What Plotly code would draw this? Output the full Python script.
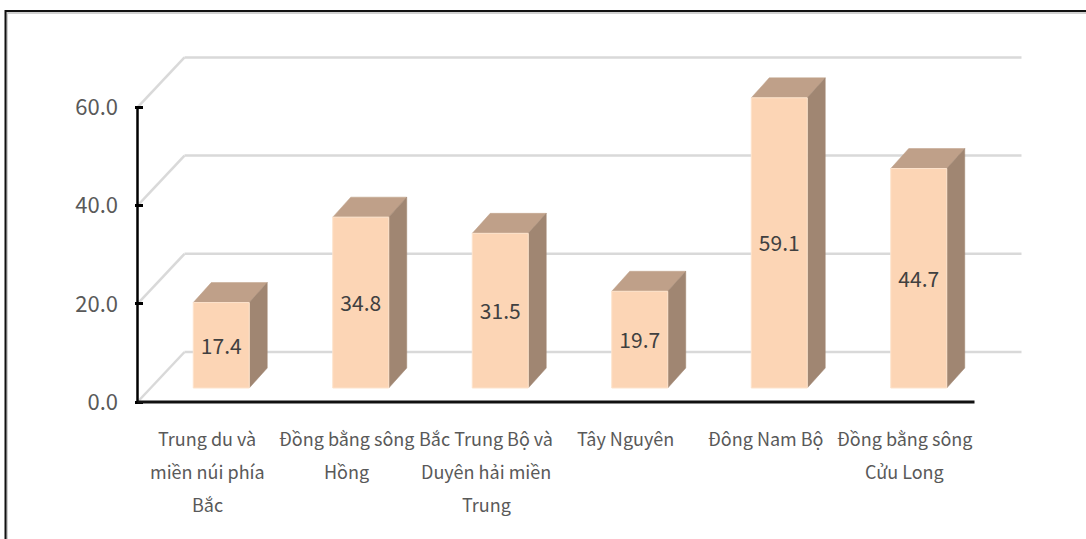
import plotly.graph_objects as go

# Regional values (%), one per region
regions = [
    ["Trung du và", "miền núi phía", "Bắc"],
    ["Đồng bằng sông", "Hồng"],
    ["Bắc Trung Bộ và", "Duyên hải miền", "Trung"],
    ["Tây Nguyên"],
    ["Đông Nam Bộ"],
    ["Đồng bằng sông", "Cửu Long"],
]
values = [17.4, 34.8, 31.5, 19.7, 59.1, 44.7]
y_ticks = [0, 20, 40, 60]
y_tick_text = ["0.0", "20.0", "40.0", "60.0"]

# Figure geometry
W, H = 1086, 539
M_L, M_R, M_T, M_B = 135, 51, 40, 134
PX_CAT = 139.5          # pixels per category
PX_VAL = 4.91           # pixels per value unit
AXIS_LEFT_PX = 137.5    # pixel x of the front value axis
AXIS_ZERO_PX = 402      # pixel y of the front category axis

x0 = -0.5 - (AXIS_LEFT_PX - M_L) / PX_CAT
x1 = x0 + (W - M_L - M_R) / PX_CAT
y0 = -(H - M_B - AXIS_ZERO_PX) / PX_VAL
y1 = y0 + (H - M_T - M_B) / PX_VAL

# Oblique depth offsets in data units
WALL_DX, WALL_DY = 47 / PX_CAT, 50 / PX_VAL
BAR_FRONT_DX, BAR_FRONT_DY = 14 / PX_CAT, 14 / PX_VAL
BAR_BACK_DX, BAR_BACK_DY = 32 / PX_CAT, 34 / PX_VAL
HALF_W = 28 / PX_CAT

FRONT = "#FCD5B5"
TOP = "#BFA089"
SIDE = "#A08672"
GRID = "#D9D9D9"
TEXT = "#595959"
FONT = "Noto Sans CJK SC, sans-serif"

fig = go.Figure()

n = len(values)
for i, v in enumerate(values):
    l = i - HALF_W
    r = i + HALF_W
    # top face
    fig.add_trace(go.Scatter(
        x=[l + BAR_FRONT_DX, r + BAR_FRONT_DX, r + BAR_BACK_DX, l + BAR_BACK_DX, l + BAR_FRONT_DX],
        y=[v + BAR_FRONT_DY, v + BAR_FRONT_DY, v + BAR_BACK_DY, v + BAR_BACK_DY, v + BAR_FRONT_DY],
        fill="toself", fillcolor=TOP, mode="lines", line=dict(color=TOP, width=0.5),
        hoverinfo="skip", showlegend=False))
    # side face
    fig.add_trace(go.Scatter(
        x=[r + BAR_FRONT_DX, r + BAR_BACK_DX, r + BAR_BACK_DX, r + BAR_FRONT_DX, r + BAR_FRONT_DX],
        y=[BAR_FRONT_DY, BAR_BACK_DY, v + BAR_BACK_DY, v + BAR_FRONT_DY, BAR_FRONT_DY],
        fill="toself", fillcolor=SIDE, mode="lines", line=dict(color=SIDE, width=0.5),
        hoverinfo="skip", showlegend=False))
    # front face
    fig.add_trace(go.Scatter(
        x=[l + BAR_FRONT_DX, r + BAR_FRONT_DX, r + BAR_FRONT_DX, l + BAR_FRONT_DX, l + BAR_FRONT_DX],
        y=[BAR_FRONT_DY, BAR_FRONT_DY, v + BAR_FRONT_DY, v + BAR_FRONT_DY, BAR_FRONT_DY],
        fill="toself", fillcolor=FRONT, mode="lines", line=dict(color="#FDE3CC", width=1),
        hoverinfo="skip", showlegend=False))

# value labels centred on the front faces
fig.add_trace(go.Scatter(
    x=[i + BAR_FRONT_DX for i in range(n)],
    y=[v / 2 + BAR_FRONT_DY - 3 / PX_VAL for v in values],
    mode="text", text=[f"{v:.1f}" for v in values], textposition="middle center",
    textfont=dict(family=FONT, size=21, color="#404040"),
    hoverinfo="skip", showlegend=False, cliponaxis=False))

shapes = []
# back-wall gridlines and their receding edges on the left wall
for t in y_ticks:
    shapes.append(dict(type="line", xref="x", yref="y", layer="below",
                       x0=-0.5, y0=t, x1=-0.5 + WALL_DX, y1=t + WALL_DY,
                       line=dict(color=GRID, width=2.5)))
    shapes.append(dict(type="line", xref="x", yref="y", layer="below",
                       x0=-0.5 + WALL_DX, y0=t + WALL_DY, x1=n - 0.5 + WALL_DX, y1=t + WALL_DY,
                       line=dict(color=GRID, width=2.5)))
# front axes
shapes.append(dict(type="line", xref="x", yref="y", x0=-0.5, y0=0, x1=-0.5, y1=y_ticks[-1],
                   line=dict(color="#000000", width=2.5)))
shapes.append(dict(type="line", xref="x", yref="y", x0=-0.5, y0=0, x1=n - 0.5, y1=0,
                   line=dict(color="#111111", width=3)))
# outer frame
px_to_paper_x = lambda px: (px - M_L) / (W - M_L - M_R)
px_to_paper_y = lambda py: (H - M_B - py) / (H - M_T - M_B)
shapes.append(dict(type="rect", xref="paper", yref="paper",
                   x0=px_to_paper_x(7), y0=px_to_paper_y(H + 20),
                   x1=px_to_paper_x(W + 20), y1=px_to_paper_y(13),
                   line=dict(color="#D0D0D0", width=2)))
shapes.append(dict(type="rect", xref="paper", yref="paper",
                   x0=px_to_paper_x(5.5), y0=px_to_paper_y(H + 20),
                   x1=px_to_paper_x(W + 20), y1=px_to_paper_y(11),
                   line=dict(color="#111111", width=2)))

# category labels, one annotation per line
LABEL_TOP_PX = 438
LINE_PX = 33
annotations = []
for i, lines in enumerate(regions):
    for k, line in enumerate(lines):
        annotations.append(dict(
            x=i, y=px_to_paper_y(LABEL_TOP_PX + k * LINE_PX),
            xref="x", yref="paper", text=line, showarrow=False,
            xanchor="center", yanchor="middle",
            font=dict(family=FONT, size=18, color=TEXT)))

fig.update_layout(
    width=W, height=H,
    margin=dict(l=M_L, r=M_R, t=M_T, b=M_B),
    paper_bgcolor="white", plot_bgcolor="white",
    shapes=shapes, annotations=annotations,
    xaxis=dict(range=[x0, x1], showgrid=False, zeroline=False, showline=False,
               showticklabels=False, ticks=""),
    yaxis=dict(range=[y0, y1], showgrid=False, zeroline=False, showline=False,
               tickmode="array", tickvals=y_ticks, ticktext=y_tick_text,
               ticks="inside", ticklen=8, tickwidth=2.5, tickcolor="#000000",
               ticklabelstandoff=16,
               tickfont=dict(family=FONT, size=22, color=TEXT)),
)

fig.write_html("out.html")
